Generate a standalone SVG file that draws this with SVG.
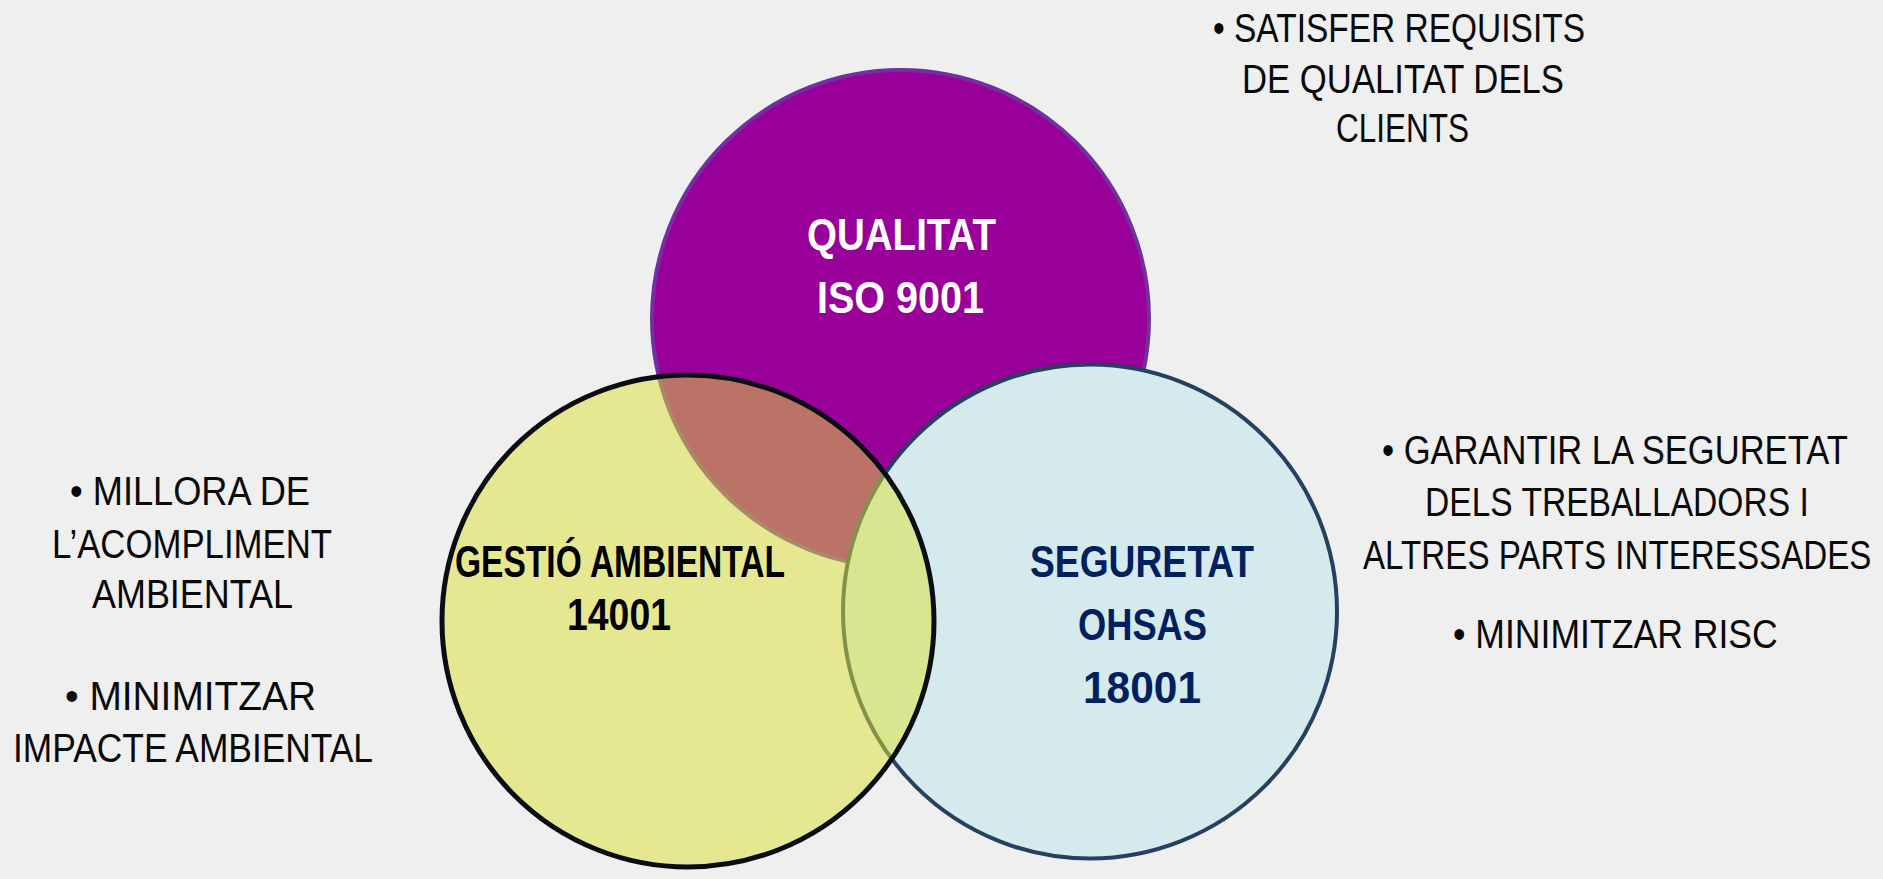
<svg xmlns="http://www.w3.org/2000/svg" width="1883" height="879" viewBox="0 0 1883 879">
  <style>
    .body { font-family: "Liberation Sans", Arial, sans-serif; font-size: 40px; fill: #0a0a0a; }
    .lbl { font-family: "Liberation Sans", Arial, sans-serif; font-size: 44px; font-weight: bold; }
  </style>
  <rect x="0" y="0" width="1883" height="879" fill="#efefef"/>

  <g id="node-qualitat">
    <circle cx="900.5" cy="318.5" r="248.5" fill="#990099" stroke="#7030a0" stroke-width="4"/>
    <text class="lbl" fill="#ffffff" x="807" y="250" textLength="189" lengthAdjust="spacingAndGlyphs">QUALITAT</text>
    <text class="lbl" fill="#ffffff" x="817" y="313" textLength="167" lengthAdjust="spacingAndGlyphs">ISO 9001</text>
  </g>

  <g id="node-seguretat">
    <circle cx="1090" cy="611.5" r="247" fill="#d5eaec" stroke="#254061" stroke-width="4"/>
    <text class="lbl" fill="#002060" x="1030" y="577" textLength="224" lengthAdjust="spacingAndGlyphs">SEGURETAT</text>
    <text class="lbl" fill="#002060" x="1078" y="640" textLength="129" lengthAdjust="spacingAndGlyphs">OHSAS</text>
    <text class="lbl" fill="#002060" x="1083" y="703" textLength="118" lengthAdjust="spacingAndGlyphs">18001</text>
  </g>

  <g id="node-gestio">
    <circle cx="688" cy="621" r="246" fill="#dde137" fill-opacity="0.51" stroke="#0a0e14" stroke-width="5"/>
    <text class="lbl" fill="#000000" x="455" y="577" textLength="330" lengthAdjust="spacingAndGlyphs">GESTIÓ AMBIENTAL</text>
    <text class="lbl" fill="#000000" x="567" y="630" textLength="104" lengthAdjust="spacingAndGlyphs">14001</text>
  </g>

  <g id="connectors"/>

  <g id="note-qualitat">
    <text class="body" x="1213" y="42" textLength="372" lengthAdjust="spacingAndGlyphs">• SATISFER REQUISITS</text>
    <text class="body" x="1242" y="93" textLength="322" lengthAdjust="spacingAndGlyphs">DE QUALITAT DELS</text>
    <text class="body" x="1336" y="142" textLength="133" lengthAdjust="spacingAndGlyphs">CLIENTS</text>
  </g>

  <g id="note-seguretat">
    <text class="body" transform="translate(1382,464) scale(0.82,1)" x="0" y="0" textLength="568" lengthAdjust="spacingAndGlyphs">• GARANTIR LA SEGURETAT</text>
    <text class="body" transform="translate(1425,516) scale(0.82,1)" x="0" y="0" textLength="468" lengthAdjust="spacingAndGlyphs">DELS TREBALLADORS I</text>
    <text class="body" transform="translate(1363,569) scale(0.82,1)" x="0" y="0" textLength="620" lengthAdjust="spacingAndGlyphs">ALTRES PARTS INTERESSADES</text>
    <text class="body" transform="translate(1453,648) scale(0.82,1)" x="0" y="0" textLength="396" lengthAdjust="spacingAndGlyphs">• MINIMITZAR RISC</text>
  </g>

  <g id="note-gestio">
    <text class="body" x="70" y="505" textLength="240" lengthAdjust="spacingAndGlyphs">• MILLORA DE</text>
    <text class="body" x="52" y="558" textLength="280" lengthAdjust="spacingAndGlyphs">L’ACOMPLIMENT</text>
    <text class="body" x="92" y="608" textLength="201" lengthAdjust="spacingAndGlyphs">AMBIENTAL</text>
    <text class="body" x="65" y="710" textLength="251" lengthAdjust="spacingAndGlyphs">•  MINIMITZAR</text>
    <text class="body" x="13" y="762" textLength="360" lengthAdjust="spacingAndGlyphs">IMPACTE AMBIENTAL</text>
  </g>
</svg>
